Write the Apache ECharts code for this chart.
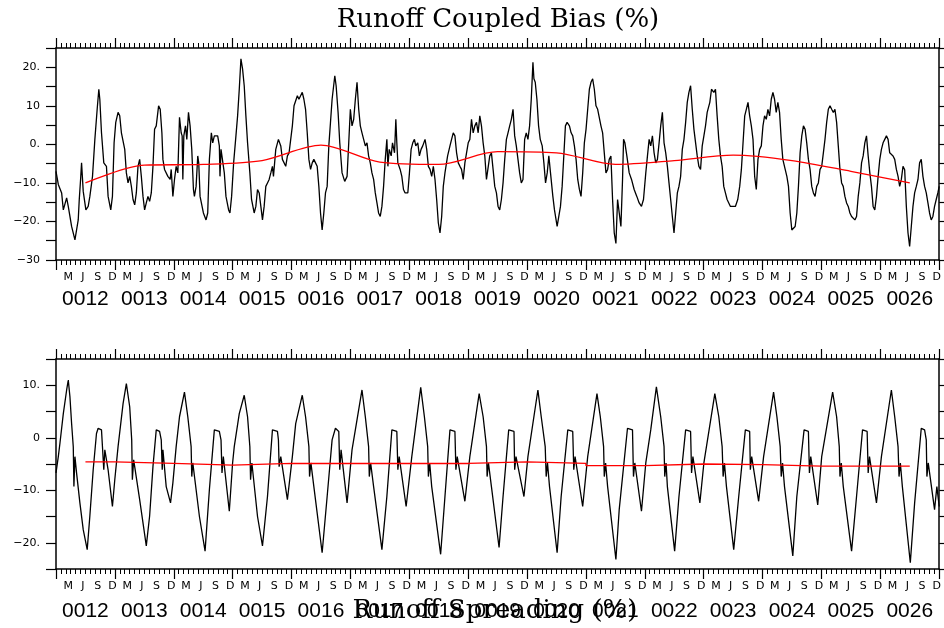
<!DOCTYPE html>
<html><head><meta charset="utf-8">
<script src="https://cdn.jsdelivr.net/npm/echarts@6/dist/echarts.min.js"></script>
<style>html,body{margin:0;padding:0;background:#fff}#c{width:944px;height:628px}</style>
</head><body><div id="c"></div>
<script>
// ---- data (time in months since Jan 0012) ----
const topTitle = 'Runoff Coupled Bias (%)';
const botTitle = 'Runoff Spreading (%)';
const yearLabels = ['0012','0013','0014','0015','0016','0017','0018','0019','0020','0021','0022','0023','0024','0025','0026'];
const monthLetters = ['M','J','S','D'];
const monthPos = [2.5,5.5,8.5,11.5];
const topYTicks = [-30,-20,-10,0,10,20];
const topYLabels = ['\u221230','\u221220.','\u221210.','0.','10','20.'];
const botYTicks = [-20,-10,0,10];
const botYLabels = ['\u221220.','\u221210.','0','10.'];

const topBias = [[0,-7.0],[0.47,-10.4],[1.15,-12.6],[1.49,-17.0],[1.83,-16.5],[2.17,-13.9],[2.50,-16.1],[3.18,-21.3],[3.86,-24.8],[4.19,-24.8],[4.53,-19.6],[4.74,-14.3],[5.01,-9.1],[5.21,-4.8],[5.55,-12.2],[6.09,-17.0],[6.56,-16.1],[6.90,-13.5],[7.44,-8.3],[7.92,1.3],[8.39,9.1],[8.73,14.3],[8.93,11.7],[9.27,3.0],[9.74,-4.8],[10.28,-5.7],[10.62,-13.5],[11.16,-17.0],[11.50,-13.5],[11.84,0.4],[12.18,5.7],[12.65,8.3],[12.99,7.4],[13.33,3.0],[14.01,-1.3],[14.34,-7.4],[14.68,-10.0],[15.02,-8.3],[15.36,-10.9],[15.70,-14.3],[16.04,-15.7],[16.37,-12.6],[16.71,-5.7],[17.05,-3.9],[17.39,-8.3],[17.73,-13.5],[18.06,-17.0],[18.40,-15.2],[18.74,-13.5],[19.08,-14.8],[19.42,-12.6],[19.76,-5.7],[20.09,3.9],[20.43,4.8],[20.91,10.0],[21.24,9.1],[21.58,3.0],[21.79,-3.9],[22.12,-6.5],[22.80,-8.3],[23.27,-9.1],[23.48,-6.5],[23.82,-13.5],[24.15,-9.1],[24.49,-5.7],[24.83,-7.4],[25.17,7.0],[25.51,3.0],[25.71,2.2],[25.85,-9.1],[26.05,2.2],[26.39,4.8],[26.66,1.3],[27.00,8.3],[27.33,4.8],[27.67,-1.3],[28.01,-11.7],[28.21,-13.5],[28.55,-10.9],[28.89,-3.0],[29.09,-4.8],[29.36,-13.5],[30.04,-17.8],[30.58,-19.6],[30.92,-17.8],[31.26,-3.9],[31.66,3.0],[31.94,0.4],[32.27,2.2],[32.95,2.2],[33.29,-0.4],[33.42,-8.3],[33.63,-1.3],[34.30,-7.4],[34.64,-13.5],[35.18,-17.0],[35.45,-17.8],[35.79,-13.5],[36.20,-4.8],[36.67,2.2],[37.01,7.4],[37.35,14.3],[37.69,22.2],[38.02,19.6],[38.36,15.2],[38.70,7.4],[39.04,0.4],[39.51,-7.4],[39.85,-14.3],[40.39,-17.8],[40.73,-16.1],[41.07,-11.7],[41.41,-12.6],[41.75,-16.1],[42.08,-19.6],[42.42,-16.1],[42.76,-10.9],[43.10,-10.0],[43.44,-9.1],[43.78,-7.4],[44.11,-5.7],[44.32,-8.3],[44.79,-1.3],[45.33,1.3],[45.81,-0.4],[46.14,-3.9],[46.82,-5.7],[47.16,-3.0],[47.50,-2.2],[48.17,4.8],[48.51,10.0],[49.19,12.6],
[49.51,11.7],[50.19,13.5],[50.52,11.7],[50.86,9.1],[51.20,3.0],[51.54,-3.9],[51.88,-6.5],[52.22,-4.8],[52.55,-3.9],[52.89,-4.8],[53.23,-5.7],[53.57,-10.9],[53.91,-17.8],[54.24,-22.2],[54.58,-17.8],[54.92,-12.6],[55.26,-10.9],[55.60,-0.4],[55.94,5.7],[56.27,11.7],[56.82,17.8],[57.09,15.2],[57.49,8.3],[57.83,0.4],[58.30,-7.4],[58.84,-9.6],[59.32,-8.3],[59.66,0.4],[59.99,9.1],[60.33,4.8],[60.67,6.5],[61.01,11.7],[61.35,16.1],[61.69,9.1],[62.02,4.8],[62.36,3.0],[62.70,1.3],[63.04,-0.4],[63.38,0.4],[63.71,-3.0],[64.05,-4.8],[64.39,-7.4],[64.73,-9.1],[65.07,-12.6],[65.41,-15.2],[65.74,-17.8],[66.08,-18.7],[66.42,-16.1],[66.76,-10.9],[67.10,-3.9],[67.43,1.3],[67.64,-5.7],[67.91,-1.3],[68.31,-3.0],[68.58,0.4],[68.99,-2.2],[69.26,6.5],[69.46,0.4],[69.67,-4.8],[70.14,-6.5],[70.48,-8.3],[70.82,-11.7],[71.15,-12.6],[71.70,-12.6],[72.03,-7.4],[72.37,-1.3],[72.71,0.4],[73.05,1.3],[73.32,-0.4],[73.73,0.4],[74.06,-3.0],[74.40,-1.3],[74.74,-0.4],[75.21,1.3],[75.55,-1.3],[75.89,-5.7],[76.23,-6.5],[76.57,-8.3],[76.90,-5.7],[77.24,-9.1],[77.58,-14.3],[77.92,-20.4],[78.26,-23.0],[78.60,-18.7],[78.93,-10.9],[79.27,-7.4],[79.81,-3.0],[80.29,-0.4],[80.62,1.3],[80.96,3.0],[81.30,2.2],[81.64,-2.2],[81.98,-4.8],[82.32,-5.7],[82.65,-6.5],[82.99,-9.1],[83.33,-4.8],[83.67,-2.2],[84.01,0.4],[84.34,1.3],[84.68,6.5],[85.02,3.0],[85.36,4.8],[85.70,5.7],[86.04,3.0],[86.37,7.4],[86.71,4.8],[87.05,0.4],[87.39,-3.0],[87.73,-9.1],[88.07,-9.1],[88.40,-3.0],[88.74,-2.2],[89.08,-6.5],[89.42,-10.9],[89.76,-12.6],[90.09,-16.1],[90.43,-17.0],[90.77,-14.3],[91.11,-10.0],[91.45,-3.9],[91.79,1.3],[92.12,3.0],[92.46,4.8],[92.80,6.5],[93.14,9.1],[93.48,2.2],[93.81,-0.4],[94.15,-3.9],[94.49,-7.4],[94.83,-10.0],[95.17,-9.1],[95.51,1.3],[95.84,3.0],[96.18,1.3],[96.52,4.8],[96.86,11.7],[97.20,21.3],[97.40,17.0],[97.67,16.1],[98.01,11.7],[98.35,4.8],[98.69,1.3],[99.09,-0.4],[99.43,-4.8],[99.77,-10.0],[100.11,-7.4],[100.44,-3.0],[100.78,-7.4],[101.26,-13.5],[101.59,-17.0],[102.13,-21.3],[102.47,-18.7],[102.81,-16.1],[103.15,-10.9],[103.49,-3.0],[103.82,4.8],[104.16,5.7],[104.64,4.8],[104.98,3.0],[105.31,2.2],[105.65,-0.4],[105.99,-3.9],[106.33,-9.1],[106.67,-11.7],[107.00,-13.5],[107.34,-7.4],[107.68,0.4],[108.02,3.9],[108.36,9.1],[108.70,14.3],[109.03,16.1],[109.37,17.0],[109.71,14.3],[110.05,10.0],[110.39,9.1],[110.73,9.1],[111.06,4.8],[111.40,3.0],[111.74,-2.2],[112.08,-7.4],[112.42,-6.5],[112.75,-3.9],[113.09,-3.0],[113.43,-14.3],[113.77,-23.0],[114.11,-25.7],
[114.45,-14.3],[114.79,-17.8],[115.13,-21.3],[115.46,-9.1],[115.67,1.3],[115.94,0.4],[116.34,-3.0],[116.82,-7.4],[117.29,-9.1],[117.83,-11.7],[118.37,-13.5],[118.85,-15.2],[119.32,-16.1],[119.73,-14.3],[120.20,-7.4],[120.54,-3.0],[120.88,1.3],[121.21,-0.4],[121.55,2.2],[121.89,-2.2],[122.23,-4.8],[122.57,-3.9],[122.91,0.4],[123.24,4.8],[123.58,8.3],[123.92,0.4],[124.26,-2.2],[124.60,-5.7],[124.93,-10.0],[125.27,-14.3],[125.61,-18.7],[125.95,-23.0],[126.29,-17.8],[126.63,-12.6],[126.96,-10.9],[127.30,-8.3],[127.64,-1.3],[127.98,1.3],[128.32,5.7],[128.65,10.9],[128.99,13.5],[129.33,15.2],[129.67,9.1],[130.01,3.9],[130.35,0.4],[130.68,-3.0],[131.02,-5.7],[131.36,-6.5],[131.70,-0.4],[132.04,2.2],[132.37,4.8],[132.71,8.3],[133.25,10.9],[133.59,14.3],[134.07,13.5],[134.40,14.3],[134.74,7.4],[135.08,1.3],[135.42,-3.0],[135.76,-5.7],[136.09,-10.9],[136.43,-12.6],[136.77,-14.3],[137.11,-14.3],[137.45,-16.1],[137.99,-16.1],[138.46,-16.1],[138.94,-14.3],[139.34,-10.9],[139.68,-6.5],[140.02,0.4],[140.36,7.4],[140.69,9.1],[141.03,10.9],[141.37,7.4],[141.71,4.8],[142.05,1.3],[142.39,-8.3],[142.72,-11.7],[143.06,-3.9],[143.40,-1.3],[143.74,-0.4],[144.08,4.8],[144.41,7.4],[144.75,6.5],[145.09,9.1],[145.43,7.4],[145.77,11.7],[146.11,13.5],[146.44,11.7],[146.78,8.3],[147.12,10.9],[147.46,8.3],[147.80,1.3],[148.13,-3.9],[148.61,-6.5],[148.95,-8.3],[149.28,-10.9],[149.62,-17.8],[149.96,-22.2],[150.30,-22.2],[150.64,-21.3],[150.98,-17.8],[151.31,-10.9],[151.65,-2.2],[151.99,2.2],[152.33,4.8],[152.67,3.9],[153.00,0.4],[153.34,-3.9],[153.68,-6.5],[154.02,-10.9],[154.36,-12.6],[154.70,-13.5],[155.03,-10.9],[155.37,-10.0],[155.71,-6.5],[156.05,-5.7],[156.39,-2.2],[156.72,1.3],[157.06,5.7],[157.40,9.1],[157.74,10.0],[158.08,9.1],[158.42,8.3],[158.75,9.1],[159.09,5.7],[159.43,-0.4],[159.77,-6.5],[160.11,-10.0],[160.44,-10.9],[160.78,-13.5],[161.12,-15.2],[161.46,-16.1],[161.80,-17.8],[162.14,-18.7],[162.47,-18.7],[162.81,-19.6],[163.15,-18.7],[163.49,-13.5],[163.83,-10.0],[164.17,-4.8],[164.50,-3.0],[164.84,0.4],[165.18,2.2],[165.52,-3.0],[165.86,-7.4],[166.19,-10.9],[166.53,-16.1],[166.87,-17.0],[167.21,-13.5],[167.55,-8.3],[167.89,-3.9],[168.22,-1.3],[168.56,0.4],[168.90,1.3],[169.24,2.2],[169.58,1.3],[169.91,-2.2],[170.25,-2.2],[170.59,-3.0],[170.93,-3.9],[171.27,-6.5],[171.61,-8.3],[171.94,-10.9],[172.28,-9.1],[172.62,-5.7],[172.96,-6.6],[173.30,-16.1],[173.64,-23.0],[173.97,-26.5],[174.31,-21.3],[174.65,-16.1],[174.99,-12.6],[175.33,-10.9],[175.67,-9.1],[176.00,-4.8],[176.34,-3.9],[176.68,-8.3],[177.02,-10.9],[177.36,-12.6],[177.70,-15.2],[178.03,-17.8],[178.37,-19.6],[178.71,-18.7],[179.05,-16.1],[179.39,-14.3],[179.72,-12.6],[180.0,-10.9]];

const topMean = [[6,-10.0],[18,-5.4],[30,-5.2],[42,-4.2],[54,-0.2],[66,-4.6],[78,-5.2],[90,-1.9],[102,-2.2],[114,-5.2],[126,-4.2],[138,-2.8],[150,-4.2],[162,-7.0],[174,-10.0]];

const botSpread = [[0,-6.7],[0.47,-3.6],[0.81,-1.0],[1.49,4.6],[2.17,9.1],[2.50,11.0],[2.84,7.8],[3.18,2.7],[3.52,-1.7],[3.65,-9.3],[3.86,-3.6],[4.19,-6.7],[4.87,-12.4],[5.55,-17.5],[6.36,-21.3],[6.90,-14.9],[7.58,-6.1],[8.25,0.8],[8.59,1.8],[9.27,1.5],[9.47,-1.7],[9.74,-6.1],[9.95,-2.3],[10.62,-6.1],[11.50,-13.1],[11.98,-8.0],[12.65,-1.7],[13.67,6.5],[14.34,10.3],[15.02,5.9],[15.43,-0.4],[15.56,-8.0],[15.83,-4.2],[17.05,-11.8],[18.40,-20.6],[19.08,-14.9],[19.76,-5.5],[20.43,1.5],[21.11,1.2],[21.45,-0.4],[21.65,-6.1],[21.79,-2.3],[22.46,-9.3],[23.34,-12.4],[23.82,-8.6],[24.49,-1.7],[25.17,4.0],[26.18,8.7],[26.86,4.0],[27.54,-1.7],[27.67,-7.4],[27.88,-4.8],[29.23,-15.0],[30.38,-21.6],[31.26,-9.9],[32.27,1.5],[33.29,1.2],[33.63,-0.4],[33.83,-6.7],[34.10,-3.6],[35.32,-14.0],[35.99,-4.8],[36.33,-1.7],[37.35,4.6],[38.36,8.1],[39.04,4.0],[39.51,-1.7],[39.65,-8.0],[39.92,-4.8],[41.07,-15.0],[42.08,-20.6],[43.10,-11.2],[44.11,1.5],[45.13,1.2],[45.33,-0.4],[45.47,-5.5],[45.81,-3.6],[47.16,-11.8],[48.17,-3.6],[48.85,2.7],
[50.19,8.1],[50.86,4.0],[51.54,-1.7],[51.67,-7.4],[51.95,-4.8],[52.55,-9.3],[54.24,-21.9],[55.26,-11.2],[56.27,-0.4],[56.95,1.8],[57.63,1.2],[57.83,-6.1],[58.10,-2.3],[59.32,-12.4],[60.33,-2.3],[62.36,9.1],[63.04,4.0],[63.71,-1.7],[63.85,-7.4],[64.12,-4.8],[64.73,-9.3],[66.42,-21.3],[67.43,-11.2],[68.45,1.5],[69.46,1.2],[69.67,-6.1],[69.94,-3.6],[71.36,-13.1],[72.51,-3.6],[74.33,9.6],[75.08,4.0],[75.75,-1.7],[75.89,-7.4],[76.16,-4.8],[76.57,-9.3],[78.39,-22.2],[79.27,-11.2],[80.29,1.5],[81.30,1.2],[81.50,-6.1],[81.77,-3.6],[83.33,-12.1],[84.34,-3.6],[86.24,8.4],[87.05,4.0],[87.73,-1.7],[87.86,-7.4],[88.13,-4.8],[88.74,-9.3],[90.30,-20.9],[91.11,-11.2],[92.26,1.5],[93.34,1.2],[93.48,-6.1],[93.75,-3.6],[95.37,-11.2],[96.18,-3.6],[98.21,9.1],[98.89,4.0],[99.70,-1.7],[99.90,-7.4],[100.17,-4.8],[100.58,-9.3],[102.13,-21.9],[102.95,-11.2],[104.30,1.5],[105.31,1.2],[105.52,-6.1],[105.79,-3.6],[107.34,-13.1],[108.36,-3.6],[110.25,8.4],[110.93,4.0],[111.60,-1.7],[111.74,-7.4],[112.01,-4.8],[112.42,-9.3],[114.11,-23.2],[114.78,-13.7],[116.47,1.8],[117.49,1.5],[117.69,-7.4],[117.96,-4.8],
[119.32,-14.0],[120.20,-4.8],[121.21,1.5],[122.36,9.7],[123.24,4.0],[123.92,-1.7],[124.06,-7.4],[124.33,-4.8],[124.60,-9.3],[126.08,-21.6],[126.96,-11.2],[128.32,1.5],[129.33,1.2],[129.53,-6.7],[129.80,-3.6],[131.22,-12.4],[132.04,-4.8],[134.27,8.4],[135.08,4.0],[135.76,-1.7],[135.96,-7.4],[136.23,-4.8],[136.64,-9.3],[138.12,-21.3],[139.14,-11.2],[140.49,1.5],[141.37,1.2],[141.51,-6.1],[141.78,-3.6],[143.20,-12.1],[144.21,-3.6],[146.24,8.7],[146.92,4.0],[147.59,-1.7],[147.80,-7.4],[148.07,-4.8],[148.47,-9.3],[150.16,-22.5],[150.98,-11.2],[152.46,1.5],[153.34,1.2],[153.55,-6.7],[153.82,-3.6],[155.24,-12.8],[156.05,-3.6],[158.28,8.7],[159.09,4.0],[159.63,-1.7],[159.77,-7.4],[160.04,-4.8],[160.45,-9.3],[162.14,-21.6],[163.15,-11.2],[164.37,1.5],[165.31,1.2],[165.52,-6.7],[165.79,-3.6],[167.21,-12.4],[168.22,-3.6],[170.25,9.1],[170.93,4.0],[171.61,-1.7],[171.81,-7.4],[172.08,-4.8],[172.49,-9.3],[174.11,-23.8],[174.99,-12.4],[176.34,1.8],[177.02,1.5],[177.36,-0.4],[177.49,-7.4],[177.76,-4.8],[179.05,-13.7],[179.52,-9.3],[180.0,-13.1]];

const botMean = [[6,-4.6],[12,-4.9],[24,-5.2],[36,-4.9],[48,-4.9],[60,-4.9],[72,-4.9],[84,-4.6],[96,-4.9],[108,-5.3],[120,-5.0],[132,-5.1],[144,-5.4],[156,-5.4],[168,-5.4],[174,-5.4]];

// ---- chart ----
const chart = echarts.init(document.getElementById('c'), null, {renderer:'canvas'});
const black = '#000';
const grids = [
  {left:56, right:1, top:48, height:212},
  {left:56, right:1, top:359, height:210}
];
function mapLabel(ticks, labels){
  return v => { const i = ticks.findIndex(t => Math.abs(t - v) < 1e-6); return i >= 0 ? labels[i] : ''; };
}
const xAxes = [], yAxes = [];
[0,1].forEach(g => {
  // bottom frame with month minor ticks and year major ticks
  xAxes.push({type:'value', gridIndex:g, position:'bottom', min:0, max:180, interval:12,
    axisLine:{show:true, onZero:false, lineStyle:{color:black, width:1.5}},
    axisTick:{show:true, inside:false, length:10, lineStyle:{color:black, width:1.2}},
    minorTick:{show:true, splitNumber:12, length:5, lineStyle:{color:black, width:1}},
    axisLabel:{show:false}, splitLine:{show:false}, minorSplitLine:{show:false}});
  // month letters
  xAxes.push({type:'value', gridIndex:g, position:'bottom', min:0, max:180, interval:0.5,
    axisLine:{show:false}, axisTick:{show:false}, splitLine:{show:false},
    axisLabel:{show:true, margin:12, color:black, fontSize:11, fontFamily:'DejaVu Sans',
      showMinLabel:false, showMaxLabel:false,
      formatter: v => { const m = Math.round(v*2) % 24; const i = monthPos.findIndex(p => Math.round(p*2) === m); return i >= 0 ? monthLetters[i] : ''; }}});
  // year labels
  xAxes.push({type:'value', gridIndex:g, position:'bottom', min:0, max:180, interval:6,
    axisLine:{show:false}, axisTick:{show:false}, splitLine:{show:false},
    axisLabel:{show:true, margin:g===0?29:32, color:black, fontSize:21, fontFamily:'Liberation Sans',
      showMinLabel:false, showMaxLabel:false,
      formatter: v => { const k = Math.round(v); if (k % 12 !== 6) return ''; return yearLabels[(k-6)/12] || ''; }}});
  // top frame
  xAxes.push({type:'value', gridIndex:g, position:'top', min:0, max:180, interval:12,
    axisLine:{show:true, onZero:false, lineStyle:{color:black, width:1.5}},
    axisTick:{show:true, inside:false, length:10, lineStyle:{color:black, width:1.2}},
    minorTick:{show:true, splitNumber:12, length:5, lineStyle:{color:black, width:1}},
    axisLabel:{show:false}, splitLine:{show:false}});
  const yt = g === 0 ? topYTicks : botYTicks, yl = g === 0 ? topYLabels : botYLabels;
  yAxes.push({type:'value', gridIndex:g, position:'left', min: g===0?-30:-25, max: g===0?25:15, interval:5,
    axisLine:{show:true, onZero:false, lineStyle:{color:black, width:1.5}},
    axisTick:{show:true, inside:false, length:10, lineStyle:{color:black, width:1.2}},
    axisLabel:{show:true, margin:16, color:black, fontSize:11, fontFamily:'DejaVu Sans',
      formatter: mapLabel(yt, yl)},
    splitLine:{show:false}});
  yAxes.push({type:'value', gridIndex:g, position:'right', min: g===0?-30:-25, max: g===0?25:15, interval:5,
    axisLine:{show:true, onZero:false, lineStyle:{color:black, width:1.5}},
    axisTick:{show:true, inside:false, length:8, lineStyle:{color:black, width:1.2}},
    axisLabel:{show:false}, splitLine:{show:false}});
});
const lineBase = {type:'line', showSymbol:false, symbol:'none', animation:false, silent:true, clip:true};
chart.setOption({
  animation:false,
  backgroundColor:'#fff',
  grid: grids,
  xAxis: xAxes,
  yAxis: yAxes,
  series: [
    Object.assign({}, lineBase, {xAxisIndex:0, yAxisIndex:0, data: topBias, lineStyle:{color:black, width:1.3}}),
    Object.assign({}, lineBase, {xAxisIndex:0, yAxisIndex:0, data: topMean, smooth:0.3, lineStyle:{color:'#ff0000', width:1.3}}),
    Object.assign({}, lineBase, {xAxisIndex:4, yAxisIndex:2, data: botSpread, lineStyle:{color:black, width:1.3}}),
    Object.assign({}, lineBase, {xAxisIndex:4, yAxisIndex:2, data: botMean, step:'end', lineStyle:{color:'#ff0000', width:1.3}})
  ],
  graphic: [
    {type:'text', x:498, y:20, z:100, style:{text: topTitle, font:'26px "DejaVu Serif"', fill:black, textAlign:'center', textVerticalAlign:'middle'}},
    {type:'text', x:495, y:611, z:100, style:{text: botTitle, font:'26px "DejaVu Serif"', fill:black, textAlign:'center', textVerticalAlign:'middle'}}
  ]
});
</script>
</body></html>
